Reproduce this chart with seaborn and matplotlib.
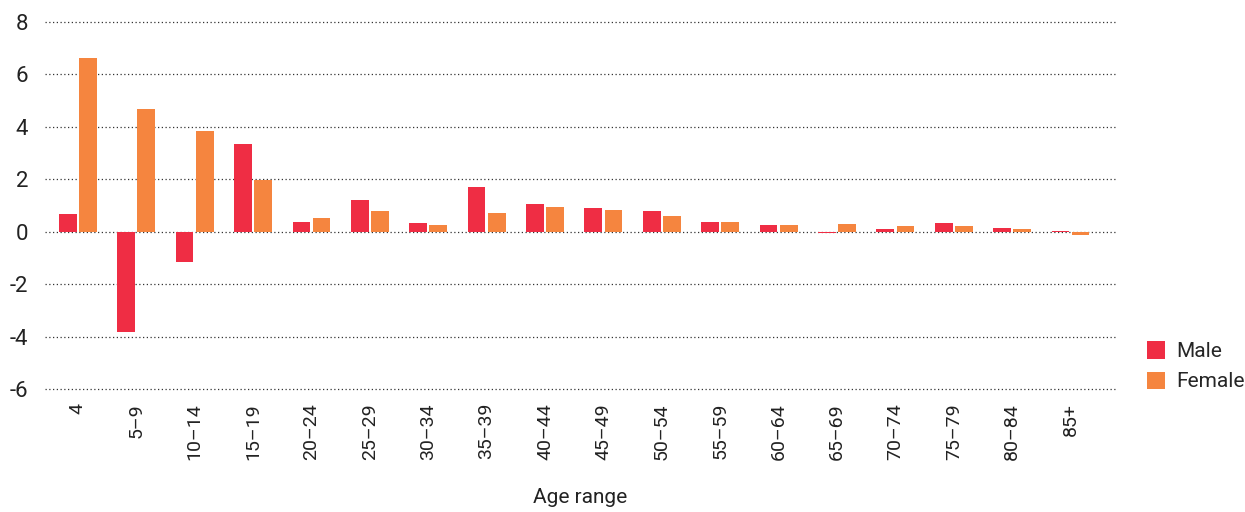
import pandas as pd
import numpy as np
import matplotlib.pyplot as plt
import seaborn as sns

age_ranges = ['4', '5–9', '10–14', '15–19', '20–24', '25–29', '30–34', '35–39', '40–44',
              '45–49', '50–54', '55–59', '60–64', '65–69', '70–74', '75–79', '80–84', '85+']
male = [0.69, -3.81, -1.14, 3.35, 0.38, 1.22, 0.32, 1.71, 1.07,
        0.91, 0.80, 0.39, 0.27, -0.05, 0.09, 0.32, 0.15, 0.04]
female = [6.63, 4.69, 3.85, 1.98, 0.53, 0.80, 0.24, 0.72, 0.95,
          0.84, 0.61, 0.39, 0.27, 0.28, 0.23, 0.23, 0.12, -0.13]

df = pd.DataFrame({'Age range': age_ranges * 2,
                   'Value': male + female,
                   'Sex': ['Male'] * len(male) + ['Female'] * len(female)})

sns.set_style('white')
plt.rcParams['font.family'] = ['Roboto', 'DejaVu Sans']
plt.rcParams['axes.unicode_minus'] = False

fig = plt.figure(figsize=(12.45, 5.12), dpi=100)
ax = fig.add_axes([0.036, 0.24, 0.86, 0.717])

sns.barplot(data=df, x='Age range', y='Value', hue='Sex', order=age_ranges,
            palette={'Male': '#EF2D44', 'Female': '#F5853F'},
            width=0.69, gap=0.12, saturation=1, linewidth=0, ax=ax)

ax.set_ylim(-6, 8)
ax.set_yticks(range(-6, 9, 2))
ax.set_xlim(-0.566, 17.77)
ax.grid(axis='y', linestyle=(0, (1, 2)), color='#333333', linewidth=0.9)
for gl in ax.get_ygridlines():
    gl.set_clip_on(False)
ax.set_axisbelow(True)
for s in ax.spines.values():
    s.set_visible(False)
ax.tick_params(axis='y', labelsize=16, colors='#222222', length=0, pad=12)
ax.tick_params(axis='x', labelsize=14, colors='#222222', length=0, pad=10, rotation=90)
ax.set_xlabel('Age range', fontsize=15, color='#222222', labelpad=20)
ax.set_ylabel('')

ax.legend(loc='upper left', bbox_to_anchor=(0.906, 0.37), bbox_transform=fig.transFigure,
          frameon=False, fontsize=15, handlelength=0.9, handleheight=0.9,
          handletextpad=0.5, labelspacing=0.5)

fig.savefig('out.png', dpi=100)
